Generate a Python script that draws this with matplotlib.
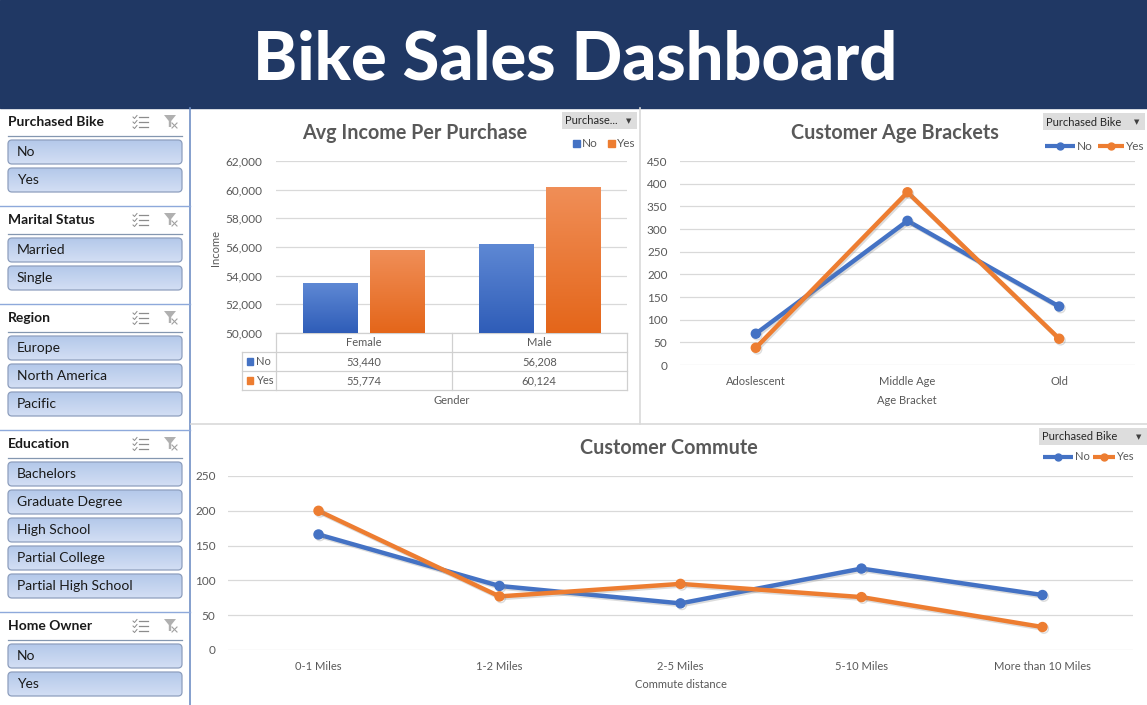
import matplotlib
matplotlib.use('Agg')
import matplotlib.pyplot as plt
import numpy as np
from matplotlib.patches import Rectangle, FancyBboxPatch, Polygon
from matplotlib.lines import Line2D
from matplotlib.colors import LinearSegmentedColormap
import matplotlib.patheffects as pe

plt.rcParams['font.family'] = ['Lato', 'DejaVu Sans']

# ---------------- data ----------------
genders = ['Female', 'Male']
income_no = [53440, 56208]
income_yes = [55774, 60124]
income_ticks = list(range(50000, 62001, 2000))

age_brackets = ['Adoslescent', 'Middle Age', 'Old']
age_no = [69, 318, 129]
age_yes = [38, 381, 58]
age_ticks = list(range(0, 451, 50))

commute_cats = ['0-1 Miles', '1-2 Miles', '2-5 Miles', '5-10 Miles', 'More than 10 Miles']
commute_no = [166, 92, 67, 117, 79]
commute_yes = [200, 77, 95, 76, 33]
commute_ticks = list(range(0, 251, 50))

series_names = ['No', 'Yes']

slicer_titles = ['Purchased Bike', 'Marital Status', 'Region', 'Education', 'Home Owner']
slicer_items = [
    ['No', 'Yes'],
    ['Married', 'Single'],
    ['Europe', 'North America', 'Pacific'],
    ['Bachelors', 'Graduate Degree', 'High School', 'Partial College', 'Partial High School'],
    ['No', 'Yes'],
]

# ---------------- styling ----------------
W, H = 1147, 705
BLUE = '#4472C4'
ORANGE = '#ED7D31'
NAVY = '#203864'
GRID = '#D9D9D9'
TXT = '#595959'


def R(x0, y0, x1, y1):
    return [x0 / W, 1 - y1 / H, (x1 - x0) / W, (y1 - y0) / H]


fig = plt.figure(figsize=(W / 100, H / 100), dpi=100)
bg = fig.add_axes([0, 0, 1, 1])
bg.set_xlim(0, W)
bg.set_ylim(H, 0)
bg.axis('off')

# header
bg.add_patch(Rectangle((0, 0), W, 108, color=NAVY, zorder=1))
bg.text(575, 79, 'Bike Sales Dashboard', color='white', fontsize=48, fontweight='black',
        ha='center', va='baseline', zorder=2)

# ---------------- slicers ----------------
SEP = '#8EA9DB'
bg.plot([190, 190], [108, H], color='#6F8FC5', lw=1.2, zorder=3)
grad_btn = np.linspace(0, 1, 50).reshape(-1, 1)
btn_cmap = LinearSegmentedColormap.from_list('btn', ['#B4C8EA', '#D3DFF4'])

y = 108
for si, (title, items) in enumerate(zip(slicer_titles, slicer_items)):
    ty = y + 14
    bg.text(8, ty, title, fontsize=10, fontweight='bold', color='#1a1a1a', ha='left', va='center', zorder=4)
    bg.plot([8, 182], [ty + 14, ty + 14], color='#8497B0', lw=0.9, zorder=4)
    # multi-select icon
    for k in range(3):
        yk = ty - 5 + k * 5
        bg.plot([133, 134.5, 137], [yk, yk + 1.5, yk - 1.5], color='#8C8C8C', lw=0.7, zorder=4)
        bg.plot([139, 148], [yk, yk], color='#8C8C8C', lw=0.9, zorder=4)
    # clear filter icon
    bg.add_patch(Polygon([(164, ty - 7), (176, ty - 7), (171.2, ty - 1), (171.2, ty + 5),
                          (168.8, ty + 5), (168.8, ty - 1)], closed=True,
                         facecolor='#B0B0B0', edgecolor='none', zorder=4))
    bg.plot([172, 177], [ty + 1, ty + 6], color='#A0A0A0', lw=0.8, zorder=4)
    bg.plot([172, 177], [ty + 6, ty + 1], color='#A0A0A0', lw=0.8, zorder=4)
    top = ty + 18
    for k, item in enumerate(items):
        b0 = top + k * 28
        patch = FancyBboxPatch((8, b0), 174, 24, boxstyle='round,pad=0,rounding_size=4',
                               facecolor='none', edgecolor='#8E9FBE', lw=0.9, zorder=5)
        bg.add_patch(patch)
        im = bg.imshow(grad_btn, extent=[8, 182, b0 + 24, b0], aspect='auto', cmap=btn_cmap,
                       origin='upper', zorder=4)
        im.set_clip_path(patch)
        bg.text(17, b0 + 12.5, item, fontsize=10, color='#1a1a1a', ha='left', va='center', zorder=6)
    y = top + len(items) * 28 - 4 + 14
    if si < len(slicer_titles) - 1:
        bg.plot([0, 190], [y, y], color=SEP, lw=1.0, zorder=3)

bg.set_xlim(0, W)
bg.set_ylim(H, 0)

# chart panel separators
bg.plot([640, 640], [108, 424], color=GRID, lw=1.2, zorder=3)
bg.plot([191, W], [424, 424], color=GRID, lw=1.2, zorder=3)


def filter_button(x0, y0, x1, y1, label):
    bg.add_patch(Rectangle((x0, y0), x1 - x0, y1 - y0, facecolor='#DDDDDD', edgecolor='none',
                           zorder=4))
    bg.text(x0 + 3, (y0 + y1) / 2 + 0.5, label, fontsize=8, color='#262626', ha='left', va='center', zorder=5)
    bg.text(x1 - 8, (y0 + y1) / 2 + 0.5, '\u25BC', fontsize=5, color='#404040', ha='center', va='center',
            family='DejaVu Sans', zorder=5)


def line_legend(spans, y0, fs):
    for ((xa, xb), name, c) in zip(spans, series_names, [BLUE, ORANGE]):
        bg.add_line(Line2D([xa, xb], [y0, y0], color=c, lw=3, solid_capstyle='butt', zorder=5))
        bg.add_line(Line2D([(xa + xb) / 2], [y0], color=c, marker='o', markersize=5, zorder=6))
        bg.text(xb + 1.5, y0, name, fontsize=fs, color=TXT, ha='left', va='center', zorder=6)


# ---------------- chart 1 : avg income ----------------
bg.text(415, 133, 'Avg Income Per Purchase', fontsize=14.2, fontweight='bold', color=TXT,
        ha='center', va='center', zorder=5)
filter_button(562, 112, 637, 129, 'Purchase...')
for x, name, c in zip([573, 608], series_names, [BLUE, ORANGE]):
    bg.add_patch(Rectangle((x, 140), 7, 7, color=c, zorder=5))
    bg.text(x + 9, 143.5, name, fontsize=8.5, color=TXT, ha='left', va='center', zorder=5)

PX0, PX1, PY0, PY1 = 276, 627, 161, 333
ax1 = fig.add_axes(R(PX0, PY0, PX1, PY1))
ax1.set_facecolor('none')
bw = 0.308
offs = [-0.19, 0.19]
cmaps = [LinearSegmentedColormap.from_list('b', ['#2F5DB8', '#5E88D4']),
         LinearSegmentedColormap.from_list('o', ['#E4661A', '#F08E57'])]
grad = np.linspace(0, 1, 100).reshape(-1, 1)
for i in range(len(genders)):
    for s, vals in enumerate([income_no, income_yes]):
        x0 = i + 0.5 + offs[s] - bw / 2
        ax1.imshow(grad, extent=[x0, x0 + bw, income_ticks[0], vals[i]], aspect='auto',
                   cmap=cmaps[s], origin='lower', zorder=3)
ax1.set_xlim(0, len(genders))
ax1.set_ylim(income_ticks[0], income_ticks[-1])
ax1.set_yticks(income_ticks)
ax1.set_yticklabels([f'{t:,}' for t in income_ticks])
ax1.set_xticks([])
ax1.grid(axis='y', color=GRID, lw=0.9, zorder=0)
ax1.set_axisbelow(True)
for sp in ax1.spines.values():
    sp.set_visible(False)
ax1.tick_params(axis='y', length=0, pad=10, labelsize=8.5, labelcolor=TXT)
fig.text(215 / W, 1 - 248 / H, 'Income', rotation=90, fontsize=8, color=TXT, ha='center', va='center')

# data table
TC = '#D0D0D0'
colw = (PX1 - PX0) / len(genders)
rows_y = [333, 352, 371, 390]
bg.plot([PX0, PX1], [rows_y[0], rows_y[0]], color=TC, lw=0.9, zorder=4)
for yy in rows_y[1:]:
    bg.plot([242, PX1], [yy, yy], color=TC, lw=0.9, zorder=4)
bg.plot([242, 242], [rows_y[1], rows_y[3]], color=TC, lw=0.9, zorder=4)
for k in range(len(genders) + 1):
    xx = PX0 + k * colw
    bg.plot([xx, xx], [rows_y[0], rows_y[3]], color=TC, lw=0.9, zorder=4)
for i, g in enumerate(genders):
    cx = PX0 + (i + 0.5) * colw
    bg.text(cx, 342.5, g, fontsize=8, color=TXT, ha='center', va='center', zorder=5)
    bg.text(cx, 361.5, f'{income_no[i]:,}', fontsize=8, color=TXT, ha='center', va='center', zorder=5)
    bg.text(cx, 380.5, f'{income_yes[i]:,}', fontsize=8, color=TXT, ha='center', va='center', zorder=5)
for yy, name, c in zip([361.5, 380.5], series_names, [BLUE, ORANGE]):
    bg.add_patch(Rectangle((247, yy - 3.5), 6, 7, color=c, zorder=5))
    bg.text(256, yy, name, fontsize=8, color=TXT, ha='left', va='center', zorder=5)
bg.text((PX0 + PX1) / 2, 400, 'Gender', fontsize=8, color=TXT, ha='center', va='center', zorder=5)

shadow = [pe.SimpleLineShadow(offset=(1.0, -1.2), shadow_color='#8C8C8C', alpha=0.3), pe.Normal()]


def line_chart(ax, cats, no_vals, yes_vals, ticks, pad_x):
    x = np.arange(len(cats))
    for vals, c in zip([no_vals, yes_vals], [BLUE, ORANGE]):
        ax.plot(x, vals, color=c, lw=3.2, marker='o', markersize=6.5, zorder=3,
                solid_capstyle='round', path_effects=shadow)
    ax.set_xlim(-0.5, len(cats) - 0.5)
    ax.set_ylim(ticks[0], ticks[-1])
    ax.set_yticks(ticks)
    ax.set_xticks(x)
    ax.set_xticklabels(cats)
    ax.grid(axis='y', color=GRID, lw=0.9, zorder=0)
    ax.set_axisbelow(True)
    for sp in ax.spines.values():
        sp.set_visible(False)
    ax.tick_params(axis='y', length=0, pad=pad_x, labelsize=8.5, labelcolor=TXT)
    ax.tick_params(axis='x', length=0, pad=8, labelsize=8, labelcolor=TXT)
    ax.set_facecolor('none')


# ---------------- chart 2 : age brackets ----------------
bg.text(895, 133, 'Customer Age Brackets', fontsize=14.2, fontweight='bold', color=TXT,
        ha='center', va='center', zorder=5)
filter_button(1043, 113, 1145, 130, 'Purchased Bike')
line_legend([(1045, 1075), (1098, 1124)], 146, 8.5)
ax2 = fig.add_axes(R(680, 161, 1135, 365))
line_chart(ax2, age_brackets, age_no, age_yes, age_ticks, 9)
bg.text(907, 400, 'Age Bracket', fontsize=8, color=TXT, ha='center', va='center', zorder=5)

# ---------------- chart 3 : commute ----------------
bg.text(669, 448, 'Customer Commute', fontsize=14.2, fontweight='bold', color=TXT,
        ha='center', va='center', zorder=5)
filter_button(1039, 428, 1147, 445, 'Purchased Bike')
line_legend([(1043, 1073), (1093, 1115)], 457, 8)
ax3 = fig.add_axes(R(228, 476, 1133, 650))
line_chart(ax3, commute_cats, commute_no, commute_yes, commute_ticks, 9)
bg.text(681, 685, 'Commute distance', fontsize=8, color=TXT, ha='center', va='center', zorder=5)

fig.savefig('out.png', dpi=100)
